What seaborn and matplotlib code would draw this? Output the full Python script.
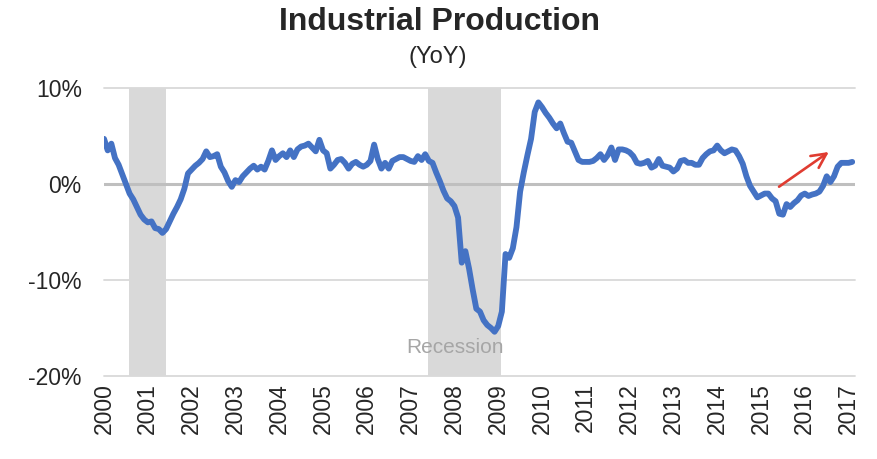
import numpy as np
import pandas as pd
import matplotlib
matplotlib.use("Agg")
import matplotlib.pyplot as plt
import seaborn as sns

# Industrial production, % change year over year, monthly from Jan 2000
yoy = [
    # 2000
    4.7, 3.5, 4.2, 2.7, 2.0, 1.0, 0.0, -1.0, -1.6, -2.4, -3.2, -3.7,
    # 2001
    -4.0, -3.9, -4.6, -4.7, -5.1, -4.7, -3.9, -3.1, -2.4, -1.6, -0.5, 1.1,
    # 2002
    1.5, 1.9, 2.2, 2.6, 3.4, 2.8, 2.9, 3.1, 1.8, 1.2, 0.3, -0.3,
    # 2003
    0.4, 0.2, 0.8, 1.2, 1.6, 1.9, 1.5, 1.8, 1.5, 2.4, 3.5, 2.5,
    # 2004
    2.9, 3.2, 2.8, 3.5, 2.8, 3.6, 3.9, 4.0, 4.2, 3.8, 3.4, 4.6,
    # 2005
    3.5, 3.2, 1.6, 2.0, 2.5, 2.6, 2.2, 1.6, 2.1, 2.3, 2.0, 1.8,
    # 2006
    2.0, 2.4, 4.1, 2.6, 1.6, 2.2, 1.6, 2.4, 2.6, 2.8, 2.8, 2.6,
    # 2007
    2.4, 2.3, 2.9, 2.5, 3.1, 2.4, 2.2, 1.2, 0.3, -0.7, -1.5, -1.8,
    # 2008
    -2.3, -3.5, -8.2, -7.0, -8.8, -11.0, -13.0, -13.3, -14.2, -14.7, -15.0, -15.4,
    # 2009
    -14.8, -13.3, -7.3, -7.7, -6.7, -4.5, -0.8, 1.2, 3.0, 4.7, 7.5, 8.5,
    # 2010
    8.0, 7.4, 6.9, 6.3, 5.8, 6.3, 5.3, 4.4, 4.3, 3.4, 2.5, 2.3,
    # 2011
    2.3, 2.3, 2.4, 2.7, 3.1, 2.5, 3.0, 3.8, 2.5, 3.6, 3.6, 3.5,
    # 2012
    3.3, 2.9, 2.2, 2.1, 2.2, 2.4, 1.7, 1.9, 2.6, 1.9, 1.8, 1.7,
    # 2013
    1.3, 1.6, 2.4, 2.5, 2.2, 2.2, 2.0, 2.0, 2.7, 3.1, 3.4, 3.5,
    # 2014
    4.0, 3.5, 3.2, 3.4, 3.6, 3.5, 2.9, 2.1, 0.8, -0.2, -0.8, -1.4,
    # 2015
    -1.2, -1.0, -1.0, -1.5, -1.8, -3.1, -3.2, -2.1, -2.4, -2.0, -1.7, -1.2,
    # 2016
    -1.0, -1.25, -1.1, -1.0, -0.8, -0.2, 0.8, 0.2, 0.8, 1.8, 2.2, 2.2,
    # 2017
    2.2, 2.3,
]

year_ticks = list(range(2000, 2018))
y_ticks = [10, 0, -10, -20]
y_labels = ["10%", "0%", "-10%", "-20%"]

# shaded recession periods (in axis years)
recessions = [(2000.57, 2001.42), (2007.40, 2009.06)]

# hand drawn trend arrow
arrow_start = (2015.36, -0.45)
arrow_end = (2016.60, 3.5)

df = pd.DataFrame({"t": 2000 + np.arange(len(yoy)) / 12, "yoy": yoy})

sns.set_theme(style="white")
plt.rcParams['font.family'] = ['Liberation Sans', 'DejaVu Sans']

fig = plt.figure(figsize=(8.78, 4.59), dpi=100)
ax = fig.add_axes([0.1185, 0.181, 0.8555, 0.6273])

for v in [10, -10, -20]:
    ax.axhline(v, color="#d9d9d9", lw=1.3, zorder=0.5, clip_on=False)
for a, b in recessions:
    ax.axvspan(a, b, color="#d9d9d9", lw=0, zorder=1)
ax.axhline(0, color="#bfbfbf", lw=2.2, zorder=1.5)

sns.lineplot(data=df, x="t", y="yoy", color="#4472C4", lw=4.2, ax=ax, zorder=3)

ax.annotate("", xy=arrow_end, xytext=arrow_start,
            arrowprops=dict(arrowstyle="->", color="#E03C31", lw=1.9, mutation_scale=26),
            zorder=4)

ax.text(2008.01, -17.0, "Recession", color="#a6a6a6", fontsize=15,
        ha="center", va="center", zorder=2)

ax.set_xlim(2000, 2017.15)
ax.set_ylim(-20, 10)
ax.set_xticks(year_ticks)
ax.set_xticklabels([str(y) for y in year_ticks], rotation=90)
ax.set_yticks(y_ticks)
ax.set_yticklabels(y_labels)
ax.tick_params(axis="y", length=0, pad=16, labelsize=16.5, colors="#262626")
ax.tick_params(axis="x", length=0, pad=5, labelsize=16.5, colors="#262626")
ax.set_xlabel("")
ax.set_ylabel("")
for s in ax.spines.values():
    s.set_visible(False)

fig.text(0.501, 1 - 22 / 459, "Industrial Production", ha="center", va="center",
         fontsize=23, fontweight="bold", color="#262626")
fig.text(0.499, 1 - 57 / 459, "(YoY)", ha="center", va="center",
         fontsize=17, color="#262626")

fig.savefig("out.png", dpi=100)
